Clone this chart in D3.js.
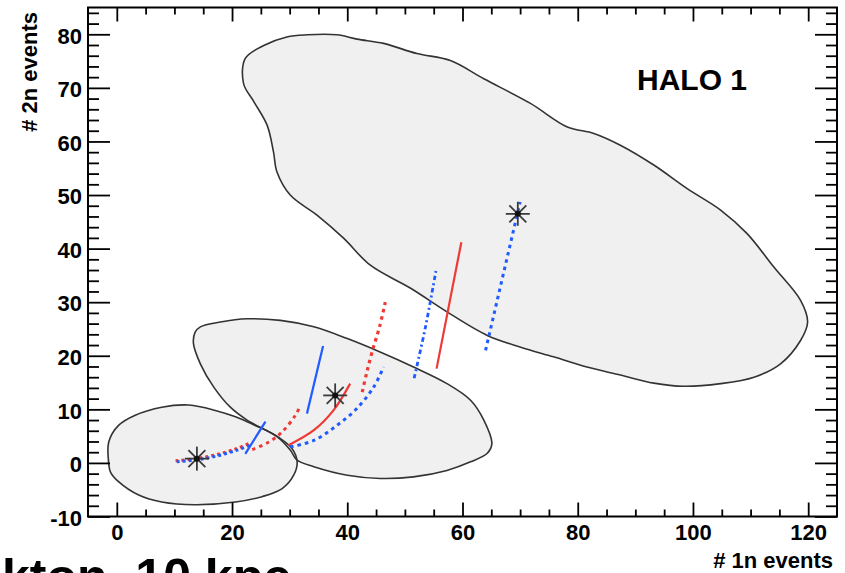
<!DOCTYPE html>
<html>
<head>
<meta charset="utf-8">
<script src="https://cdn.jsdelivr.net/npm/d3@7"></script>
<style>
  body { margin: 0; background: #fff; }
  text { font-family: "Liberation Sans", Arial, sans-serif; font-weight: bold; }
</style>
</head>
<body>
<div id="chart"></div>
<script>
// Kontur-data (# 1n events, # 2n events)
const bigContour = [[22.3,75.5],[25.5,77.9],[29.5,79.5],[33.0,79.9],[38.2,79.9],[41.7,79.1],[46.3,78.3],[52.1,76.4],[57.9,75.1],[63.7,71.7],[71.8,67.1],[78.2,62.7],[82.8,61.5],[87.4,59.3],[93.2,55.6],[99.0,51.2],[104.8,47.2],[109.4,42.8],[114.0,36.6],[118.7,30.3],[119.9,26.3],[118.7,22.9],[115.2,18.5],[110.6,16.0],[104.8,14.8],[98.4,14.3],[93.2,14.9],[87.4,16.4],[81.6,17.9],[75.8,19.8],[70.1,21.6],[64.3,23.8],[57.3,28.2],[51.0,32.6],[44.0,36.9],[39.4,41.9],[34.8,46.2],[30.1,50.0],[27.8,54.3],[27.2,58.0],[26.1,63.0],[23.8,67.4],[22.0,70.8]];
const midContour = [[13.6,24.4],[14.5,25.4],[18.0,26.3],[22.6,26.9],[28.4,26.6],[34.2,25.4],[40.0,23.2],[45.7,20.7],[51.5,17.9],[57.3,14.8],[61.4,11.7],[63.7,8.0],[65.1,3.6],[64.3,1.8],[61.4,0.2],[57.3,-1.4],[51.5,-2.6],[45.7,-2.9],[40.0,-2.3],[34.2,-0.7],[31.3,0.5],[30.1,2.4],[27.8,4.9],[22.6,8.0],[19.7,10.4],[16.8,14.2],[14.5,18.5],[13.3,22.3]];
const smallContour = [[-1.4,-0.1],[-1.4,3.9],[0.3,7.0],[3.2,8.9],[7.8,10.4],[12.5,10.8],[17.1,9.8],[20.6,8.6],[24.0,7.0],[27.5,5.2],[30.4,2.7],[31.3,0.2],[30.7,-2.3],[28.7,-4.8],[25.2,-6.3],[20.6,-7.3],[13.6,-7.8],[7.8,-7.3],[3.8,-6.0],[0.3,-3.5],[-1.1,-1.7]];

// Stjerner (best fit)
const stars = [[13.9,0.8],[37.9,12.6],[69.6,46.5]];

// Kurver
const redDotBundle = [[10.2,0.4],[13.6,0.8],[17.1,1.5],[20.6,2.6],[22.9,3.6]];
const blueDotBundle = [[10.4,0.2],[13.9,0.6],[17.4,1.3],[20.9,2.4],[23.1,3.3]];
const blueSolid1 = [[22.3,1.7],[25.8,7.7]];
const redDotA = [[23.5,2.5],[26.4,3.9],[28.7,5.8],[31.0,8.9],[31.9,10.8]];
const blueSolid2 = [[33.0,9.2],[35.8,21.8]];
const redSolidC = [[29.8,3.3],[34.2,6.1],[37.6,9.8],[40.5,14.8]];
const blueDotD = [[30.1,3.0],[34.2,4.2],[38.2,7.0],[41.7,10.2],[44.6,14.2],[46.3,17.9]];
const redDotE = [[42.6,13.2],[43.3,16.5],[44.3,20.7],[45.6,25.4],[46.6,30.0]];
const blueDashDotF = [[51.6,15.8],[53.6,25.5],[55.4,35.9]];
const redSolidG = [[55.5,17.6],[59.8,41.2]];
const blueDotH = [[64.0,21.0],[70.0,48.7]];

// Akse ticks
const xMajor = [0, 20, 40, 60, 80, 100, 120];
const yMajor = [-10, 0, 10, 20, 30, 40, 50, 60, 70, 80];

const width = 845, height = 573;
const red = "#ee3a35", blue = "#1f5bff";

const svg = d3.select("#chart").append("svg").attr("width", width).attr("height", height);

const x = d3.scaleLinear().domain([-5, 125]).range([88, 837]);
const y = d3.scaleLinear().domain([-10, 85]).range([516.5, 7.5]);

const xMinor = d3.range(-5, 126, 5).filter(v => v % 20 !== 0 && v > -5 && v < 125);
const yMinor = d3.range(-10, 85, 2).filter(v => v % 10 !== 0);

svg.append("defs").append("clipPath").attr("id", "frame")
  .append("rect").attr("x", 88).attr("y", 7.5).attr("width", 749).attr("height", 509);

const plot = svg.append("g").attr("clip-path", "url(#frame)");

// Konturer: først fyld, så kanter
const contour = d3.line().x(d => x(d[0])).y(d => y(d[1])).curve(d3.curveCatmullRomClosed.alpha(0.5));
const contours = [bigContour, midContour, smallContour];
plot.selectAll(".fill").data(contours).enter().append("path")
  .attr("d", contour).attr("fill", "#f0f0f0").attr("stroke", "none");
plot.selectAll(".edge").data(contours).enter().append("path")
  .attr("d", contour).attr("fill", "none").attr("stroke", "#333").attr("stroke-width", 1.6);

// Kurver
const curve = d3.line().x(d => x(d[0])).y(d => y(d[1])).curve(d3.curveCatmullRom.alpha(0.5));
const series = [
  { d: redDotBundle, c: red, dash: "3,3", w: 3 },
  { d: blueDotBundle, c: blue, dash: "3,3", w: 3 },
  { d: blueSolid1, c: blue, dash: null, w: 2.2 },
  { d: redDotA, c: red, dash: "3.5,4", w: 3 },
  { d: blueSolid2, c: blue, dash: null, w: 2.2 },
  { d: redSolidC, c: red, dash: null, w: 2.2 },
  { d: blueDotD, c: blue, dash: "3.5,4", w: 3 },
  { d: redDotE, c: red, dash: "3.5,4", w: 3.2 },
  { d: blueDashDotF, c: blue, dash: "4.5,3,2,3", w: 2.8 },
  { d: redSolidG, c: red, dash: null, w: 2.2 },
  { d: blueDotH, c: blue, dash: "3.5,4", w: 3 }
];
plot.selectAll(".curve").data(series).enter().append("path")
  .attr("d", s => curve(s.d))
  .attr("fill", "none")
  .attr("stroke", s => s.c)
  .attr("stroke-width", s => s.w)
  .attr("stroke-dasharray", s => s.dash);

// Stjerne markører
const r = 12;
const star = plot.selectAll(".star").data(stars).enter().append("g")
  .attr("transform", d => "translate(" + x(d[0]) + "," + y(d[1]) + ")");
[0, 45, 90, 135].forEach(function (a) {
  const dx = r * Math.cos(a * Math.PI / 180), dy = r * Math.sin(a * Math.PI / 180);
  star.append("line").attr("x1", -dx).attr("y1", -dy).attr("x2", dx).attr("y2", dy)
    .attr("stroke", "#3a3a3a").attr("stroke-width", 1.8);
});
star.append("circle").attr("r", 3).attr("fill", "#111");

// Akser
function styleAxis(g) {
  g.select(".domain").remove();
  g.selectAll(".tick line").attr("stroke", "#000").attr("stroke-width", 1.8);
  g.selectAll("text").attr("fill", "#000").style("font-size", "22px")
    .style("font-family", "Liberation Sans, Arial, sans-serif").style("font-weight", "bold");
}
const fmt = d => String(d); // bindestreg som i originalen ("-10")

svg.append("g").attr("transform", "translate(0,516.5)")
  .call(d3.axisBottom(x).tickValues(xMajor).tickSizeInner(-14).tickSizeOuter(0).tickPadding(8).tickFormat(fmt))
  .call(styleAxis);
svg.append("g").attr("transform", "translate(0,516.5)")
  .call(d3.axisBottom(x).tickValues(xMinor).tickSizeInner(-7).tickSizeOuter(0).tickFormat(""))
  .call(styleAxis);
svg.append("g").attr("transform", "translate(0,7.5)")
  .call(d3.axisTop(x).tickValues(xMajor).tickSizeInner(-14).tickSizeOuter(0).tickFormat(""))
  .call(styleAxis);
svg.append("g").attr("transform", "translate(0,7.5)")
  .call(d3.axisTop(x).tickValues(xMinor).tickSizeInner(-7).tickSizeOuter(0).tickFormat(""))
  .call(styleAxis);

svg.append("g").attr("transform", "translate(88,0)")
  .call(d3.axisLeft(y).tickValues(yMajor).tickSizeInner(-22).tickSizeOuter(0).tickPadding(6).tickFormat(fmt))
  .call(styleAxis)
  .selectAll("text").attr("dy", "0.4em");
svg.append("g").attr("transform", "translate(88,0)")
  .call(d3.axisLeft(y).tickValues(yMinor).tickSizeInner(-11).tickSizeOuter(0).tickFormat(""))
  .call(styleAxis);
svg.append("g").attr("transform", "translate(837,0)")
  .call(d3.axisRight(y).tickValues(yMajor).tickSizeInner(-22).tickSizeOuter(0).tickFormat(""))
  .call(styleAxis);
svg.append("g").attr("transform", "translate(837,0)")
  .call(d3.axisRight(y).tickValues(yMinor).tickSizeInner(-11).tickSizeOuter(0).tickFormat(""))
  .call(styleAxis);

// Ramme
svg.append("rect").attr("x", 88).attr("y", 7.5).attr("width", 749).attr("height", 509)
  .attr("fill", "none").attr("stroke", "#000").attr("stroke-width", 2);

// Akse labels
svg.append("text").attr("x", 833).attr("y", 568).attr("text-anchor", "end")
  .style("font-size", "22px").text("# 1n events");
svg.append("text").attr("transform", "translate(37,12) rotate(-90)").attr("text-anchor", "end")
  .style("font-size", "22px").text("# 2n events");

svg.append("text").attr("x", 637).attr("y", 90).style("font-size", "30px").text("HALO 1");

// Titlen er skåret af i bunden i originalen også
svg.append("text").attr("x", 2).attr("y", 594).style("font-size", "50px").text("kton, 10 kpc");
</script>
</body>
</html>
